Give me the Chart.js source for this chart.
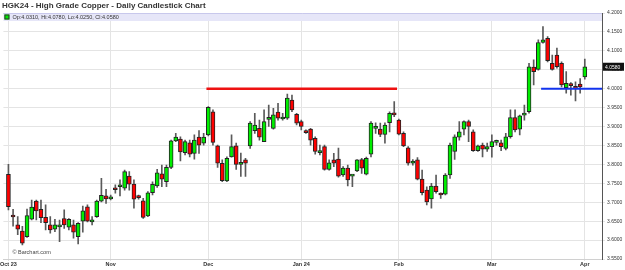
<!DOCTYPE html>
<html>
<head>
<meta charset="utf-8">
<script src="https://cdn.jsdelivr.net/npm/chart.js@4.4.1/dist/chart.umd.min.js"></script>
<style>
  html, body { margin: 0; padding: 0; background: #fff; }
  #chart { display: block; }
</style>
</head>
<body>
<canvas id="chart" width="625" height="270"></canvas>
<script>
// ============================================
// Data
// ============================================

// one value per trading day, Oct 2 2023 .. Apr 1 2024
const opens = [
  3.774, 3.664, 3.640, 3.624, 3.609, 3.655, 3.703, 3.681, 3.660, 3.640,
  3.629, 3.635, 3.657, 3.634, 3.640, 3.609, 3.650, 3.688, 3.648, 3.662,
  3.703, 3.717, 3.709, 3.734, 3.741, 3.737, 3.769, 3.748, 3.715, 3.704,
  3.664, 3.725, 3.743, 3.775, 3.754, 3.792, 3.862, 3.867, 3.831, 3.857,
  3.829, 3.872, 3.856, 3.878, 3.939, 3.849, 3.803, 3.756, 3.820, 3.849,
  3.800, 3.812, 3.849, 3.889, 3.895, 3.860, 3.919, 3.895, 3.938, 3.920,
  3.922, 3.970, 3.932, 3.913, 3.886, 3.893, 3.869, 3.831, 3.847, 3.787,
  3.812, 3.814, 3.772, 3.790, 3.769, 3.783, 3.813, 3.774, 3.827, 3.895,
  3.893, 3.879, 3.910, 3.935, 3.917, 3.882, 3.844, 3.803, 3.812, 3.761,
  3.732, 3.709, 3.743, 3.724, 3.721, 3.772, 3.834, 3.872, 3.893, 3.913,
  3.886, 3.836, 3.851, 3.840, 3.847, 3.858, 3.857, 3.842, 3.873, 3.924,
  3.893, 3.930, 3.939, 4.057, 4.051, 4.122, 4.133, 4.067, 4.089, 4.067,
  4.003, 4.012, 4.005, 4.012, 4.031
];
const highs = [
  3.800, 3.681, 3.662, 3.636, 3.682, 3.706, 3.706, 3.706, 3.693, 3.662,
  3.655, 3.653, 3.680, 3.657, 3.653, 3.646, 3.690, 3.693, 3.662, 3.706,
  3.763, 3.734, 3.719, 3.746, 3.759, 3.785, 3.781, 3.759, 3.719, 3.710,
  3.728, 3.754, 3.787, 3.798, 3.798, 3.864, 3.882, 3.873, 3.864, 3.864,
  3.878, 3.889, 3.882, 3.953, 3.944, 3.851, 3.812, 3.820, 3.878, 3.856,
  3.830, 3.816, 3.913, 3.935, 3.917, 3.944, 3.957, 3.948, 3.961, 3.935,
  3.986, 3.983, 3.935, 3.917, 3.891, 3.895, 3.873, 3.851, 3.851, 3.812,
  3.829, 3.843, 3.794, 3.798, 3.772, 3.813, 3.816, 3.819, 3.913, 3.910,
  3.909, 3.910, 3.939, 3.966, 3.920, 3.886, 3.847, 3.813, 3.818, 3.785,
  3.741, 3.750, 3.772, 3.725, 3.776, 3.856, 3.878, 3.913, 3.915, 3.917,
  3.891, 3.851, 3.856, 3.856, 3.878, 3.864, 3.864, 3.882, 3.944, 3.944,
  3.930, 3.957, 4.067, 4.076, 4.129, 4.164, 4.138, 4.089, 4.107, 4.071,
  4.045, 4.016, 4.018, 4.027, 4.078
];
const lows = [
  3.680, 3.637, 3.614, 3.587, 3.607, 3.653, 3.653, 3.646, 3.627, 3.618,
  3.622, 3.596, 3.631, 3.627, 3.605, 3.590, 3.621, 3.648, 3.640, 3.660,
  3.701, 3.697, 3.706, 3.724, 3.717, 3.732, 3.732, 3.684, 3.708, 3.657,
  3.662, 3.719, 3.739, 3.741, 3.741, 3.789, 3.860, 3.809, 3.825, 3.820,
  3.814, 3.829, 3.851, 3.875, 3.851, 3.792, 3.754, 3.754, 3.819, 3.787,
  3.768, 3.768, 3.842, 3.882, 3.864, 3.860, 3.900, 3.893, 3.917, 3.917,
  3.919, 3.939, 3.904, 3.891, 3.882, 3.851, 3.827, 3.825, 3.785, 3.785,
  3.794, 3.766, 3.768, 3.743, 3.741, 3.781, 3.776, 3.772, 3.820, 3.882,
  3.873, 3.856, 3.886, 3.926, 3.878, 3.847, 3.798, 3.798, 3.759, 3.719,
  3.693, 3.684, 3.724, 3.710, 3.719, 3.763, 3.813, 3.864, 3.878, 3.860,
  3.834, 3.834, 3.820, 3.834, 3.819, 3.851, 3.836, 3.838, 3.869, 3.886,
  3.878, 3.917, 3.935, 4.010, 4.049, 4.120, 4.071, 4.049, 4.054, 4.005,
  3.988, 3.983, 3.968, 3.988, 4.025
];
const closes = [
  3.688, 3.661, 3.629, 3.592, 3.665, 3.687, 3.677, 3.659, 3.646, 3.627,
  3.640, 3.637, 3.640, 3.655, 3.621, 3.644, 3.677, 3.650, 3.649, 3.703,
  3.718, 3.709, 3.713, 3.733, 3.742, 3.781, 3.748, 3.708, 3.712, 3.660,
  3.725, 3.747, 3.778, 3.761, 3.792, 3.862, 3.872, 3.833, 3.860, 3.827,
  3.864, 3.851, 3.872, 3.951, 3.858, 3.803, 3.757, 3.816, 3.847, 3.800,
  3.802, 3.803, 3.909, 3.904, 3.872, 3.913, 3.921, 3.931, 3.922, 3.920,
  3.975, 3.944, 3.909, 3.900, 3.884, 3.864, 3.834, 3.836, 3.787, 3.804,
  3.803, 3.769, 3.790, 3.759, 3.769, 3.812, 3.790, 3.816, 3.909, 3.895,
  3.879, 3.904, 3.935, 3.931, 3.880, 3.849, 3.803, 3.809, 3.761, 3.725,
  3.701, 3.743, 3.728, 3.719, 3.772, 3.851, 3.873, 3.886, 3.913, 3.900,
  3.836, 3.849, 3.840, 3.847, 3.860, 3.858, 3.847, 3.873, 3.924, 3.891,
  3.928, 3.930, 4.058, 4.045, 4.122, 4.129, 4.074, 4.051, 4.058, 4.010,
  4.014, 4.008, 4.001, 4.005, 4.058
];

// x axis: first trading day of each month (bar index) and its label
const monthTickIndex = [0, 22, 43, 63, 84, 104, 124];
const monthLabels = ['Oct 23', 'Nov', 'Dec', 'Jan 24', 'Feb', 'Mar', 'Apr'];

// y axis
const priceMin = 3.55;
const priceMax = 4.20;
const priceStep = 0.05;

// drawn support / resistance lines (bar index, price)
const resistanceLine = [{ x: 42.6, y: 4.0 }, { x: 83.6, y: 4.0 }];
const supportLine = [{ x: 114.6, y: 4.0 }, { x: 127.7, y: 4.0 }];

const titleText = 'HGK24 - High Grade Copper - Daily Candlestick Chart';
const FONT = '"Liberation Sans", Arial, sans-serif';

// ============================================
// Helpers
// ============================================

const UP = '#00ee00';
const DOWN = '#ff0000';

function candleColor(i) {
    return closes[i] >= opens[i] ? UP : DOWN;
}

const last = closes.length - 1;
const legendText = 'Op:' + opens[last].toFixed(4) + ', Hi:' + highs[last].toFixed(4) +
    ', Lo:' + lows[last].toFixed(4) + ', Cl:' + closes[last].toFixed(4);

// titles, legend strip, price flag and watermark
const overlayPlugin = {
    id: 'overlay',
    beforeDatasetsDraw(chart) {
        const { ctx, chartArea: a } = chart;
        ctx.save();
        ctx.fillStyle = '#e6e6f8';
        ctx.fillRect(a.left, a.top, a.right - a.left, 8);
        ctx.strokeStyle = '#c8c8ec';
        ctx.lineWidth = 1;
        ctx.beginPath();
        ctx.moveTo(a.left, a.top + 0.5);
        ctx.lineTo(a.right, a.top + 0.5);
        ctx.stroke();
        ctx.restore();
    },
    afterDraw(chart) {
        const { ctx, chartArea: a, scales } = chart;
        ctx.save();
        ctx.textBaseline = 'middle';

        ctx.fillStyle = '#333';
        ctx.font = 'bold 8px ' + FONT;
        ctx.fillText(titleText, 2, 6);

        // legend strip
        ctx.fillStyle = UP;
        ctx.fillRect(a.left + 1, a.top + 1.5, 5, 5);
        ctx.strokeStyle = '#333';
        ctx.strokeRect(a.left + 1.5, a.top + 2, 4, 4);
        ctx.fillStyle = '#333';
        ctx.font = '5.5px ' + FONT;
        ctx.fillText(legendText, a.left + 9, a.top + 4.5);

        // watermark
        ctx.fillStyle = '#444';
        ctx.font = '5.5px ' + FONT;
        ctx.fillText('\u00a9 Barchart.com', a.left + 9, a.bottom - 7);

        // last price flag
        const y = scales.y.getPixelForValue(closes[last]);
        ctx.fillStyle = '#111';
        ctx.fillRect(a.right + 1, y - 4, 21, 8);
        ctx.fillStyle = '#fff';
        ctx.font = '5px ' + FONT;
        ctx.fillText(closes[last].toFixed(4), a.right + 3, y + 0.5);
        ctx.restore();
    }
};

// ============================================
// Chart
// ============================================

const bodies = closes.map((c, i) => ({ x: i, y: [opens[i], c] }));
const wicks = closes.map((c, i) => ({ x: i, y: [lows[i], highs[i]] }));

new Chart(document.getElementById('chart'), {
    type: 'bar',
    data: {
        datasets: [
            {
                type: 'line',
                data: resistanceLine,
                borderColor: '#ee1111',
                borderWidth: 2.5,
                pointRadius: 0,
                order: 0
            },
            {
                type: 'line',
                data: supportLine,
                borderColor: '#1133ee',
                borderWidth: 2,
                pointRadius: 0,
                order: 0
            },
            {
                data: bodies,
                backgroundColor: closes.map((c, i) => candleColor(i)),
                borderColor: '#222',
                borderWidth: 1,
                borderSkipped: false,
                barThickness: 4,
                minBarLength: 2,
                grouped: false,
                order: 1
            },
            {
                data: wicks,
                backgroundColor: '#5a5a5a',
                borderWidth: 0,
                barThickness: 1,
                grouped: false,
                order: 2
            }
        ]
    },
    plugins: [overlayPlugin],
    options: {
        responsive: false,
        animation: false,
        events: [],
        layout: { padding: { left: 3, top: 13, right: 0, bottom: 0 } },
        plugins: { legend: { display: false }, tooltip: { enabled: false } },
        scales: {
            x: {
                type: 'linear',
                min: -1.075,
                max: 127.7,
                offset: false,
                grid: { offset: false, color: '#e4e4e4', tickLength: 2, drawTicks: true },
                border: { color: '#d0d0d0' },
                afterBuildTicks: (scale) => {
                    scale.ticks = monthTickIndex.map(v => ({ value: v }));
                },
                afterFit: (scale) => { scale.height = 11; },
                ticks: {
                    autoSkip: false,
                    maxRotation: 0,
                    padding: 0,
                    color: '#333',
                    font: { family: FONT, size: 5.5, weight: 'bold' },
                    callback: (v) => monthLabels[monthTickIndex.indexOf(v)]
                }
            },
            y: {
                position: 'right',
                min: priceMin,
                max: priceMax,
                grid: { color: '#e4e4e4', tickLength: 3 },
                border: { color: '#555' },
                afterFit: (scale) => { scale.width = 23; },
                ticks: {
                    stepSize: priceStep,
                    padding: 2,
                    color: '#333',
                    font: { family: FONT, size: 5 },
                    callback: (v) => v.toFixed(4)
                }
            }
        }
    }
});
</script>
</body>
</html>
